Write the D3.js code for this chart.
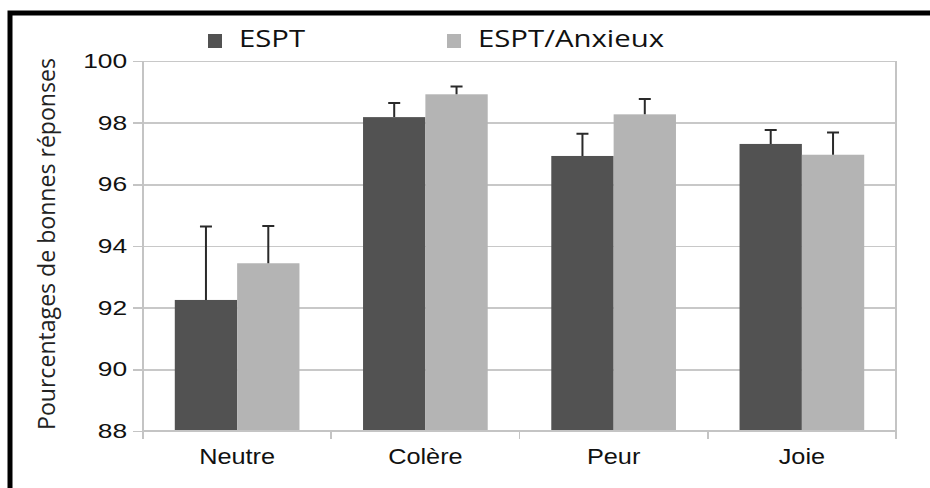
<!DOCTYPE html>
<head>
    <title>Pourcentages de bonnes réponses</title>
    <meta charset="utf-8" />
</head>

<style>
    body {
        margin: 0;
        background-color: #ffffff;
    }

    .grid line {
        stroke: #c8c8c8;
        stroke-width: 1.6px;
        shape-rendering: crispEdges;
    }

    .grid path {
        display: none;
    }

    .axis path {
        display: none;
    }

    .axis line,
    .frame {
        stroke: #c4c4c4;
        stroke-width: 1.6px;
        shape-rendering: crispEdges;
    }

    .axis text,
    .cat {
        font-family: "Liberation Sans", Arial, sans-serif;
        fill: #111;
    }

    .err {
        stroke: #2a2a2a;
        stroke-width: 2px;
        fill: none;
    }
</style>

<body>
    <svg id="chart" width="930" height="488"></svg>
    <script src="https://d3js.org/d3.v7.min.js"></script>

    <script>
        // data
        var categories = ["Neutre", "Colère", "Peur", "Joie"];
        var series = ["ESPT", "ESPT/Anxieux"];
        var espt = [92.25, 98.18, 96.92, 97.31];
        var esptErr = [2.38, 0.46, 0.72, 0.45];
        var anxieux = [93.44, 98.92, 98.27, 96.96];
        var anxieuxErr = [1.21, 0.25, 0.5, 0.72];
        var yTicks = [88, 90, 92, 94, 96, 98, 100];

        var colors = ["#525252", "#b4b4b4"];

        var plotLeft = 143, plotRight = 896, plotTop = 61, plotBottom = 431;

        var svg = d3.select("#chart");

        // outer black border
        svg.append("rect")
            .attr("x", 10)
            .attr("y", 13)
            .attr("width", 960)
            .attr("height", 520)
            .attr("fill", "none")
            .attr("stroke", "#000")
            .attr("stroke-width", 5);

        var y = d3.scaleLinear().domain([88, 100]).range([plotBottom, plotTop]);

        var x0 = d3.scaleBand().domain(categories).range([plotLeft, plotRight]).padding(0);
        var x1 = d3.scaleBand().domain(series).range([0, x0.bandwidth()])
            .paddingInner(0).paddingOuter(0.51);

        // horizontal grid
        svg.append("g")
            .attr("class", "grid")
            .attr("transform", "translate(" + plotLeft + ",0)")
            .call(d3.axisLeft(y).tickValues(yTicks).tickSize(-(plotRight - plotLeft)).tickFormat(""));

        // y axis
        var yAxis = svg.append("g")
            .attr("class", "axis")
            .attr("transform", "translate(" + plotLeft + ",0)")
            .call(d3.axisLeft(y).tickValues(yTicks).tickSize(10).tickSizeOuter(0));

        yAxis.selectAll("text")
            .attr("font-size", "20px")
            .attr("x", -12)
            .attr("transform", "scale(1.32,1)");

        // frame verticals
        svg.append("line").attr("class", "frame")
            .attr("x1", plotLeft).attr("x2", plotLeft).attr("y1", plotTop).attr("y2", plotBottom + 7);
        svg.append("line").attr("class", "frame")
            .attr("x1", plotRight).attr("x2", plotRight).attr("y1", plotTop).attr("y2", plotBottom + 7);

        // category boundary ticks
        var bounds = categories.map(function(d) { return x0(d); }).concat([plotRight]);
        svg.selectAll(".ctick")
            .data(bounds)
            .enter().append("line")
            .attr("class", "frame")
            .attr("x1", function(d) { return d; })
            .attr("x2", function(d) { return d; })
            .attr("y1", plotBottom)
            .attr("y2", plotBottom + 8);

        // bars
        var rows = categories.map(function(c, i) {
            return {
                cat: c,
                vals: [
                    { s: series[0], v: espt[i], e: esptErr[i], k: 0 },
                    { s: series[1], v: anxieux[i], e: anxieuxErr[i], k: 1 }
                ]
            };
        });

        var groups = svg.selectAll(".grp")
            .data(rows)
            .enter().append("g")
            .attr("class", "grp")
            .attr("transform", function(d) { return "translate(" + x0(d.cat) + ",0)"; });

        groups.selectAll("rect")
            .data(function(d) { return d.vals; })
            .enter().append("rect")
            .attr("x", function(d) { return x1(d.s); })
            .attr("width", x1.bandwidth())
            .attr("y", function(d) { return y(d.v); })
            .attr("height", function(d) { return plotBottom - y(d.v); })
            .attr("fill", function(d) { return colors[d.k]; });

        // bottom line over bars
        svg.append("line").attr("class", "frame")
            .attr("x1", plotLeft).attr("x2", plotRight).attr("y1", plotBottom).attr("y2", plotBottom);

        // error bars (upper only)
        groups.selectAll(".err")
            .data(function(d) { return d.vals; })
            .enter().append("path")
            .attr("class", "err")
            .attr("d", function(d) {
                var cx = x1(d.s) + x1.bandwidth() / 2;
                var y0 = y(d.v), y1 = y(d.v + d.e);
                return "M" + cx + "," + y0 + "V" + y1 + "M" + (cx - 6) + "," + y1 + "H" + (cx + 6);
            });

        // category labels
        svg.selectAll(".cat")
            .data(categories)
            .enter().append("text")
            .attr("class", "cat")
            .attr("font-size", "22px")
            .attr("text-anchor", "middle")
            .attr("transform", function(d) {
                return "translate(" + (x0(d) + x0.bandwidth() / 2) + ",464) scale(1.15,1)";
            })
            .text(function(d) { return d; });

        // y title
        svg.append("text")
            .attr("transform", "translate(55,244) rotate(-90)")
            .attr("text-anchor", "middle")
            .attr("font-family", "'Open Sans', sans-serif")
            .attr("font-size", "24px")
            .attr("fill", "#222")
            .attr("textLength", 372)
            .attr("lengthAdjust", "spacingAndGlyphs")
            .text("Pourcentages de bonnes réponses");

        // legend
        var legX = [208, 447];
        var legLen = [66, 186];
        var leg = svg.selectAll(".leg")
            .data(series)
            .enter().append("g")
            .attr("class", "leg");

        leg.append("rect")
            .attr("x", function(d, i) { return legX[i]; })
            .attr("y", 34)
            .attr("width", 14)
            .attr("height", 14)
            .attr("fill", function(d, i) { return colors[i]; });

        leg.append("text")
            .attr("x", function(d, i) { return legX[i] + 31; })
            .attr("y", 47)
            .attr("font-family", "'Open Sans', sans-serif")
            .attr("font-size", "24px")
            .attr("fill", "#111")
            .attr("textLength", function(d, i) { return legLen[i]; })
            .attr("lengthAdjust", "spacingAndGlyphs")
            .text(function(d) { return d; });
    </script>
</body>
